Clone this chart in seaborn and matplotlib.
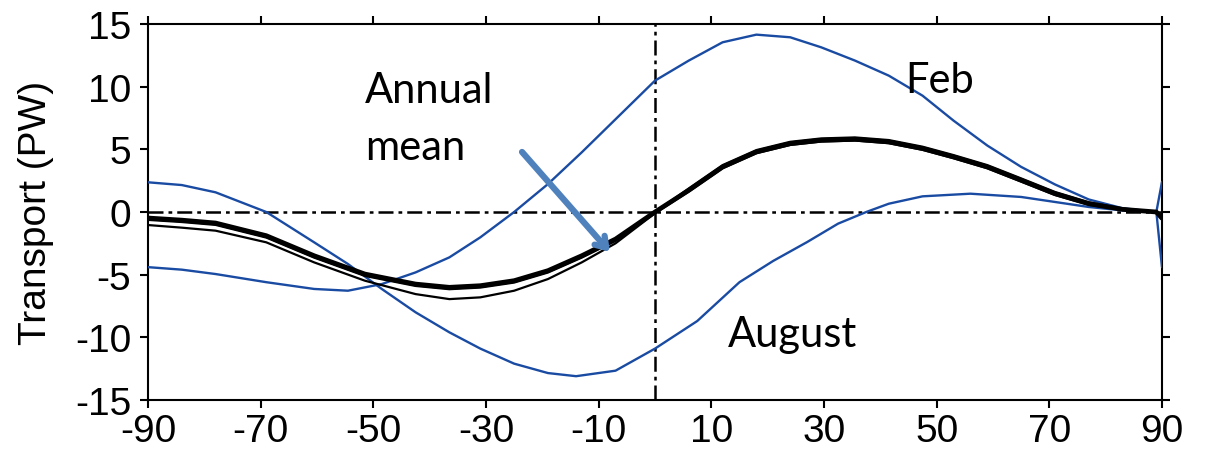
import matplotlib
matplotlib.use("Agg")
import matplotlib.pyplot as plt
import seaborn as sns
import pandas as pd

# ---------------- data ----------------
feb_lat = [-90, -84, -78, -69, -60.5, -54.5, -48.5, -42.5, -36.5, -31, -25, -19, -13,
           -7, 0, 6, 12, 18, 24, 29.5, 35.5, 41.5, 47.5, 53, 59, 65, 71, 77, 83, 89, 90]
feb = [-4.4, -4.6, -4.95, -5.6, -6.14, -6.28, -5.75, -4.82, -3.62, -2.02, 0.0, 2.23,
       4.76, 7.4, 10.48, 12.08, 13.54, 14.15, 13.94, 13.14, 12.08, 10.88, 9.28, 7.29,
       5.3, 3.6, 2.2, 1.0, 0.3, 0.0, -4.4]

aug_lat = [-90, -84, -78, -69, -60.5, -54.5, -48.5, -42.5, -36.5, -31, -25, -19, -14,
           -7, 0, 7.5, 15, 21, 27, 32.5, 37.5, 41.5, 47.5, 56, 65, 71, 77, 83, 89, 90]
august = [2.37, 2.15, 1.57, 0.0, -2.42, -4.15, -6.14, -8.0, -9.6, -10.9, -12.1, -12.85,
          -13.1, -12.66, -10.9, -8.7, -5.6, -3.9, -2.4, -0.93, 0.0, 0.66, 1.25, 1.46,
          1.2, 0.8, 0.4, 0.13, 0.0, 2.4]

mean_lat = [-90, -84, -78, -69, -60.5, -51.5, -42.5, -36.5, -31, -25, -19, -13, -7, 0,
            6, 12, 18, 24, 29.5, 35.5, 41.5, 47.5, 53, 59, 65, 71, 77, 83, 89, 90]
annual_mean = [-0.48, -0.65, -0.88, -1.89, -3.49, -4.95, -5.75, -6.01, -5.88, -5.48,
               -4.68, -3.49, -2.16, 0.0, 1.73, 3.59, 4.79, 5.45, 5.72, 5.8, 5.59, 5.06,
               4.39, 3.59, 2.53, 1.46, 0.66, 0.21, 0.0, -0.5]
annual_a = [-1.04, -1.25, -1.49, -2.42, -4.02, -5.48, -6.55, -6.95, -6.81, -6.28, -5.35,
            -4.02, -2.5, -0.1, 1.63, 3.49, 4.69, 5.35, 5.62, 5.7, 5.49, 4.96, 4.29, 3.49,
            2.43, 1.36, 0.58, 0.15, 0.0, -0.5]
annual_b = [-0.63, -0.8, -1.03, -2.04, -3.64, -5.1, -5.9, -6.16, -6.03, -5.63, -4.83,
            -3.64, -2.31, 0.0, 1.88, 3.74, 4.94, 5.6, 5.87, 5.95, 5.74, 5.21, 4.54, 3.74,
            2.68, 1.6, 0.78, 0.28, 0.0, -0.5]

xticks = [-90, -70, -50, -30, -10, 10, 30, 50, 70, 90]
yticks = [-15, -10, -5, 0, 5, 10, 15]
ylabel = "Transport (PW)"

df_feb = pd.DataFrame({"lat": feb_lat, "value": feb})
df_aug = pd.DataFrame({"lat": aug_lat, "value": august})
df_mean = pd.DataFrame({"lat": mean_lat, "mean": annual_mean,
                        "a": annual_a, "b": annual_b})

# ---------------- style ----------------
sns.set_theme(style="ticks")
plt.rcParams["font.family"] = ["Liberation Sans", "DejaVu Sans"]
plt.rcParams["axes.linewidth"] = 1.5
plt.rcParams["lines.solid_joinstyle"] = "round"

blue = "#1a4ba3"
arrow_blue = "#4f81bd"

fig = plt.figure(figsize=(12.05, 4.56), dpi=100)
ax = fig.add_axes([0.1228, 0.1206, 0.8415, 0.8246])

dashdot = (0, (6, 2, 1.5, 2))
ax.axhline(0, color="black", lw=1.8, ls=dashdot, zorder=1)
ax.axvline(0, color="black", lw=1.8, ls=dashdot, zorder=1)

sns.lineplot(data=df_feb, x="lat", y="value", ax=ax, color=blue, lw=1.7,
             sort=False, estimator=None, zorder=3)
sns.lineplot(data=df_aug, x="lat", y="value", ax=ax, color=blue, lw=1.7,
             sort=False, estimator=None, zorder=3)
sns.lineplot(data=df_mean, x="lat", y="a", ax=ax, color="black", lw=1.6,
             sort=False, estimator=None, zorder=4)
sns.lineplot(data=df_mean, x="lat", y="b", ax=ax, color="black", lw=1.6,
             sort=False, estimator=None, zorder=4)
sns.lineplot(data=df_mean, x="lat", y="mean", ax=ax, color="black", lw=3.4,
             sort=False, estimator=None, zorder=5)

ax.set_xlim(-90, 90)
ax.set_ylim(-15, 15)
ax.set_xticks(xticks)
ax.set_xticklabels([str(v) for v in xticks])
ax.set_yticks(yticks)
ax.set_yticklabels([str(v) for v in yticks])
ax.tick_params(axis="both", direction="out", length=6, width=1.5,
               labelsize=28, colors="black", top=True, right=True)
ax.tick_params(axis="x", pad=3)
ax.tick_params(axis="y", pad=6)
for s in ax.spines.values():
    s.set_visible(True)
    s.set_color("black")
    s.set_linewidth(1.5)

ax.set_xlabel("")
ax.set_ylabel(ylabel, fontsize=28, color="black")
ax.yaxis.set_label_coords(-0.093, 0.5)

ann_font = ["Lato", "DejaVu Sans"]
ax.text(-51.5, 8.78, "Annual", fontsize=30, family=ann_font, va="baseline",
        ha="left", color="black")
ax.text(-51.5, 4.23, "mean", fontsize=30, family=ann_font, va="baseline",
        ha="left", color="black")
ax.text(44.4, 9.6, "Feb", fontsize=30, family=ann_font, va="baseline",
        ha="left", color="black")
ax.text(13.0, -10.7, "August", fontsize=30, family=ann_font, va="baseline",
        ha="left", color="black")

ax.annotate("", xy=(-8.0, -3.19), xytext=(-23.6, 4.79),
            arrowprops=dict(arrowstyle="->,head_length=0.6,head_width=0.4",
                            lw=4.5, color=arrow_blue, shrinkA=0, shrinkB=0),
            zorder=6)

fig.savefig("out.png", dpi=100)
